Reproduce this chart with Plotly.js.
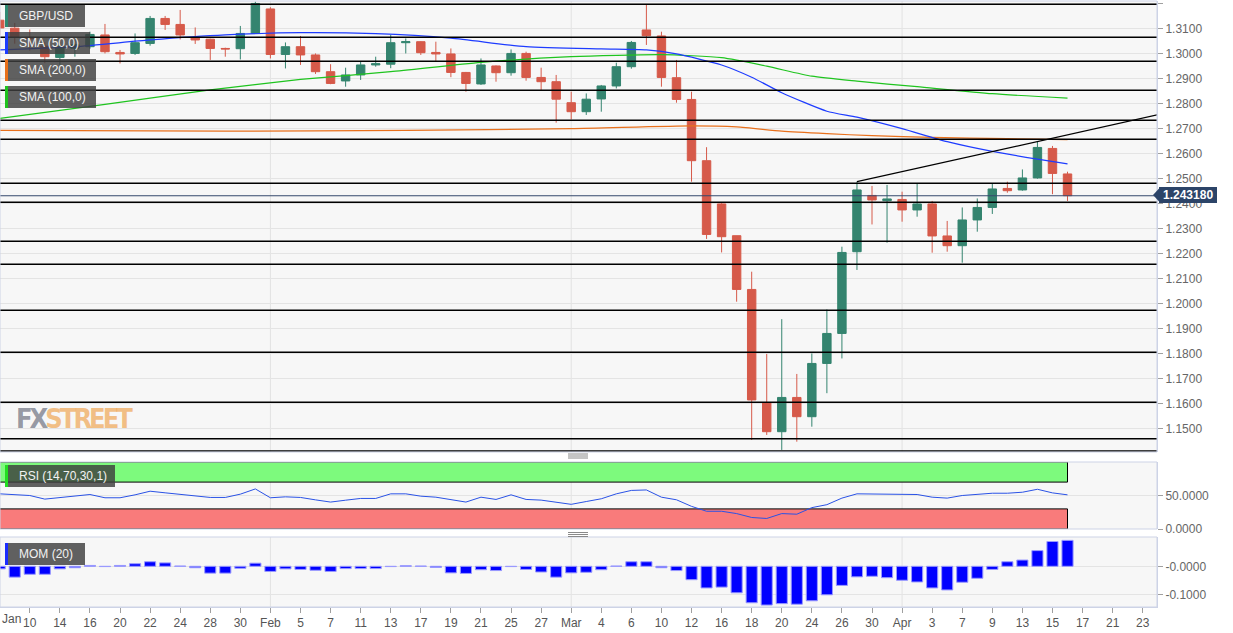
<!DOCTYPE html>
<html><head><meta charset="utf-8">
<script src="https://cdn.plot.ly/plotly-3.0.1.min.js"></script>
<style>html,body{margin:0;padding:0;background:#fff}#chart{width:1233px;height:633px}</style>
</head><body><div id="chart"></div>
<script>
// ---------- data ----------
const dates = ['2020-01-08','2020-01-09','2020-01-10','2020-01-13','2020-01-14','2020-01-15','2020-01-16','2020-01-17',
 '2020-01-20','2020-01-21','2020-01-22','2020-01-23','2020-01-24','2020-01-27','2020-01-28','2020-01-29','2020-01-30','2020-01-31',
 '2020-02-03','2020-02-04','2020-02-05','2020-02-06','2020-02-07','2020-02-10','2020-02-11','2020-02-12','2020-02-13','2020-02-14',
 '2020-02-17','2020-02-18','2020-02-19','2020-02-20','2020-02-21','2020-02-24','2020-02-25','2020-02-26','2020-02-27','2020-02-28',
 '2020-03-02','2020-03-03','2020-03-04','2020-03-05','2020-03-06','2020-03-09','2020-03-10','2020-03-11','2020-03-12','2020-03-13',
 '2020-03-16','2020-03-17','2020-03-18','2020-03-19','2020-03-20','2020-03-23','2020-03-24','2020-03-25','2020-03-26','2020-03-27',
 '2020-03-30','2020-03-31','2020-04-01','2020-04-02','2020-04-03','2020-04-06','2020-04-07','2020-04-08','2020-04-09','2020-04-10',
 '2020-04-13','2020-04-14','2020-04-15','2020-04-16'];
const futureDates = ['2020-04-17','2020-04-20','2020-04-21','2020-04-22','2020-04-23','2020-04-24'];

const open  = [1.3134,1.3102,1.3066,1.3030,1.2985,1.3022,1.3028,1.3075,1.3005,1.3001,1.3041,1.3141,1.3117,1.3064,1.3058,1.3021,1.3020,1.3081,
 1.3179,1.2997,1.3028,1.2995,1.2928,1.2891,1.2915,1.2955,1.2958,1.3044,1.3048,1.3005,1.2999,1.2925,1.2879,1.2951,1.2924,1.3001,1.2905,1.2888,
 1.2804,1.2768,1.2819,1.2871,1.2948,1.3095,1.3071,1.2904,1.2817,1.2572,1.2399,1.2272,1.2057,1.1604,1.1488,1.1625,1.1548,1.1761,1.1881,1.2208,
 1.2433,1.2412,1.2417,1.2375,1.2399,1.2271,1.2232,1.2335,1.2385,1.2461,1.2455,1.2503,1.2621,1.2519];
const high  = [1.3167,1.3123,1.3097,1.3045,1.3047,1.3055,1.3088,1.3119,1.3015,1.3081,1.3151,1.3151,1.3175,1.3105,1.3060,1.3024,1.3111,1.3208,
 1.3186,1.3045,1.3071,1.3001,1.2958,1.2944,1.2968,1.2988,1.3075,1.3061,1.3050,1.3048,1.3021,1.2927,1.2981,1.2953,1.3017,1.3008,1.2944,1.2915,
 1.2848,1.2841,1.2875,1.2964,1.3051,1.3195,1.3088,1.2975,1.2848,1.2626,1.2404,1.2272,1.2128,1.1799,1.1938,1.1719,1.1801,1.1977,1.2228,1.2488,
 1.2471,1.2475,1.2448,1.2481,1.2411,1.2331,1.2385,1.2421,1.2481,1.2488,1.2537,1.2648,1.2631,1.2528];
const low   = [1.3074,1.3040,1.3012,1.2962,1.2955,1.2988,1.3020,1.3001,1.2961,1.2995,1.3032,1.3095,1.3057,1.3039,1.2975,1.2988,1.2977,1.3080,
 1.2981,1.2941,1.2955,1.2919,1.2878,1.2868,1.2895,1.2948,1.2942,1.3001,1.2995,1.2971,1.2906,1.2848,1.2875,1.2888,1.2912,1.2892,1.2855,1.2724,
 1.2737,1.2755,1.2768,1.2861,1.2940,1.3035,1.2868,1.2804,1.2488,1.2259,1.2205,1.2008,1.1455,1.1475,1.1415,1.1448,1.1508,1.1642,1.1781,1.2135,
 1.2317,1.2244,1.2328,1.2348,1.2204,1.2208,1.2164,1.2288,1.2359,1.2444,1.2452,1.2500,1.2438,1.2411];
const close = [1.3103,1.3066,1.3060,1.2988,1.3028,1.3036,1.3077,1.3008,1.2999,1.3044,1.3141,1.3117,1.3075,1.3055,1.3021,1.3019,1.3081,1.3201,
 1.2997,1.3028,1.2995,1.2928,1.2881,1.2915,1.2955,1.2960,1.3044,1.3048,1.3004,1.2999,1.2925,1.2881,1.2955,1.2924,1.3001,1.2905,1.2888,1.2818,
 1.2768,1.2818,1.2871,1.2948,1.3045,1.3072,1.2905,1.2817,1.2572,1.2277,1.2268,1.2057,1.1615,1.1488,1.1625,1.1548,1.1761,1.1881,1.2205,1.2455,
 1.2415,1.2419,1.2375,1.2399,1.2271,1.2232,1.2335,1.2385,1.2459,1.2452,1.2503,1.2625,1.2521,1.2432];

const sma50Dates = ['2020-01-08','2020-01-15','2020-01-22','2020-01-29','2020-02-05','2020-02-12','2020-02-19','2020-02-26','2020-03-04',
 '2020-03-09','2020-03-11','2020-03-16','2020-03-18','2020-03-20','2020-03-25','2020-03-27','2020-04-01','2020-04-06','2020-04-09','2020-04-14','2020-04-16'];
const sma50 = [1.3015,1.3028,1.3055,1.3075,1.3084,1.3080,1.3062,1.3028,1.3019,1.3015,1.2999,1.2955,1.2906,1.2844,1.2770,1.2746,1.2700,1.2648,1.2609,1.2578,1.2559];

const sma100Dates = ['2020-01-08','2020-01-17','2020-01-28','2020-02-05','2020-02-13','2020-02-21','2020-03-02','2020-03-10','2020-03-16',
 '2020-03-19','2020-03-24','2020-03-27','2020-04-02','2020-04-09','2020-04-16'];
const sma100 = [1.2741,1.2797,1.2855,1.2897,1.2928,1.2965,1.2988,1.2996,1.2984,1.2950,1.2910,1.2890,1.2868,1.2840,1.2822];

const sma200Dates = ['2020-01-08','2020-01-29','2020-02-14','2020-03-02','2020-03-12','2020-03-17','2020-03-20','2020-03-25','2020-03-30',
 '2020-04-03','2020-04-10','2020-04-16'];
const sma200 = [1.2693,1.2690,1.2693,1.2700,1.2711,1.2707,1.2690,1.2680,1.2672,1.2665,1.2660,1.2656];

const levels = [1.3198,1.3066,1.2970,1.2854,1.2734,1.2658,1.2482,1.2406,1.2250,1.2158,1.1974,1.1806,1.1606,1.1460,1.1411];
const lastPrice = 1.24318;
const trendDates = ['2020-03-27','2020-04-24'];
const trendValues = [1.2488,1.2756];

const rsi = [52.5,51.5,50.0,44.6,47.1,48.5,51.5,46.6,46.6,51.0,56.4,54.0,51.5,49.5,47.1,47.1,52.0,59.8,
 46.6,48.0,47.1,43.5,40.2,43.0,45.6,45.6,52.5,52.5,49.0,47.5,43.5,40.2,47.5,44.1,51.0,44.1,43.1,40.0,
 36.8,41.0,45.1,52.5,57.6,58.3,47.5,43.6,33.8,26.5,26.5,23.0,17.2,15.7,23.0,22.1,31.9,36.3,46.1,52.5,
 52.0,52.0,51.0,51.5,47.5,46.1,50.0,51.5,53.4,53.4,54.9,59.3,53.9,51.0];
const rsiUpper = 70, rsiLower = 30;

const mom = [-0.009,-0.038,-0.028,-0.028,-0.009,-0.005,0.003,-0.001,0.003,0.009,0.016,0.012,0.001,-0.005,-0.024,-0.024,-0.007,0.011,
 -0.018,-0.009,-0.011,-0.014,-0.018,-0.008,-0.008,-0.008,-0.001,0.002,0.001,-0.004,-0.023,-0.025,-0.012,-0.015,-0.001,-0.011,-0.020,-0.038,
 -0.023,-0.021,-0.012,0.001,0.016,0.016,-0.005,-0.015,-0.047,-0.076,-0.073,-0.093,-0.128,-0.136,-0.131,-0.133,-0.121,-0.100,-0.067,-0.037,
 -0.035,-0.040,-0.049,-0.055,-0.076,-0.083,-0.056,-0.042,-0.011,0.016,0.022,0.055,0.087,0.091];

const tickDates = ['2020-01-10','2020-01-14','2020-01-16','2020-01-20','2020-01-22','2020-01-24','2020-01-28','2020-01-30','2020-02-03',
 '2020-02-05','2020-02-07','2020-02-11','2020-02-13','2020-02-17','2020-02-19','2020-02-21','2020-02-25','2020-02-27','2020-03-02',
 '2020-03-04','2020-03-06','2020-03-10','2020-03-12','2020-03-16','2020-03-18','2020-03-20','2020-03-24','2020-03-26','2020-03-30',
 '2020-04-01','2020-04-03','2020-04-07','2020-04-09','2020-04-13','2020-04-15','2020-04-17','2020-04-21','2020-04-23'];
const tickLabels = ['10','14','16','20','22','24','28','30','Feb','5','7','11','13','17','19','21','25','27','Mar','4','6','10','12',
 '16','18','20','24','26','30','Apr','3','7','9','13','15','17','21','23'];
const monthStarts = ['2020-02-03','2020-03-02','2020-04-01'];

// ---------- helpers ----------
const allDates = dates.concat(futureDates);
const pos = d => allDates.indexOf(d);
const W = 1157, H = 633;
const px = x => x / W;
const py = y => (H - y) / H;
const X = dates.map(pos);

const FONT = 'Liberation Sans, Arial, sans-serif';

const traces = [
  {type:'candlestick', x:X, open:open, high:high, low:low, close:close, xaxis:'x', yaxis:'y',
   increasing:{fillcolor:'#34846f', line:{color:'#34846f', width:1}},
   decreasing:{fillcolor:'#d65a4a', line:{color:'#d65a4a', width:1}},
   whiskerwidth:0, hoverinfo:'skip', showlegend:false},
  {type:'scatter', mode:'lines', x:sma100Dates.map(pos), y:sma100, line:{color:'#1fc41f', width:1.2, shape:'spline', smoothing:0.6}, xaxis:'x', yaxis:'y', hoverinfo:'skip'},
  {type:'scatter', mode:'lines', x:sma200Dates.map(pos), y:sma200, line:{color:'#e8701c', width:1.2, shape:'spline', smoothing:0.6}, xaxis:'x', yaxis:'y', hoverinfo:'skip'},
  {type:'scatter', mode:'lines', x:sma50Dates.map(pos), y:sma50, line:{color:'#1e3cff', width:1.2, shape:'spline', smoothing:0.6}, xaxis:'x', yaxis:'y', hoverinfo:'skip'},
  {type:'scatter', mode:'lines', x:trendDates.map(pos), y:trendValues, line:{color:'#000', width:1.2}, xaxis:'x', yaxis:'y', hoverinfo:'skip'},
  {type:'scatter', mode:'lines', x:X, y:rsi, line:{color:'#2a52e6', width:1}, xaxis:'x', yaxis:'y2', hoverinfo:'skip'},
  {type:'bar', x:X, y:mom, width:0.74, marker:{color:'#0000ff', line:{color:'#9a9aff', width:1}}, xaxis:'x', yaxis:'y3', hoverinfo:'skip'}
];

const shapes = [];
monthStarts.forEach(d => {
  ['y domain','y2 domain','y3 domain'].forEach(r => {
    shapes.push({type:'line', xref:'x', yref:r, x0:pos(d), x1:pos(d), y0:0, y1:1, line:{color:'#e2e2e2', width:1}, layer:'below'});
  });
});
const lastX = pos(dates[dates.length-1]);
shapes.push({type:'rect', xref:'x', yref:'y2', x0:-2, x1:lastX, y0:rsiUpper, y1:100, fillcolor:'#7dfa7d', line:{color:'#000', width:1}, layer:'below'});
shapes.push({type:'rect', xref:'x', yref:'y2', x0:-2, x1:lastX, y0:0, y1:rsiLower, fillcolor:'#f97b7b', line:{color:'#000', width:1}, layer:'below'});
levels.forEach(l => shapes.push({type:'line', xref:'paper', yref:'y', x0:0, x1:1, y0:l, y1:l, line:{color:'#000', width:1.5}, layer:'above'}));
shapes.push({type:'line', xref:'paper', yref:'y', x0:0, x1:1, y0:lastPrice, y1:lastPrice, line:{color:'#34486c', width:1}, layer:'above'});
['y domain','y2 domain','y3 domain'].forEach(r => {
  shapes.push({type:'rect', xref:'paper', yref:r, x0:0, x1:1, y0:0, y1:1, line:{color:'#cdd3e6', width:1}, fillcolor:'rgba(0,0,0,0)', layer:'above'});
});
const boxes = [
  {x0:5, x1:85, y0:5, y1:27, c:'#2f8a73', t:'GBP/USD'},
  {x0:5, x1:90, y0:32, y1:54, c:'#1b3cff', t:'SMA (50,0)'},
  {x0:5, x1:96, y0:59, y1:81, c:'#e8701a', t:'SMA (200,0)'},
  {x0:5, x1:96, y0:86, y1:108, c:'#1ec21e', t:'SMA (100,0)'},
  {x0:5, x1:115, y0:465, y1:487, c:'#22dd22', t:'RSI (14,70,30,1)'},
  {x0:5, x1:85, y0:543, y1:565, c:'#1b2cff', t:'MOM (20)'}
];
const annotations = [];
boxes.forEach(b => {
  shapes.push({type:'rect', xref:'paper', yref:'paper', x0:px(b.x0), x1:px(b.x1), y0:py(b.y1), y1:py(b.y0), fillcolor:'rgba(62,62,62,0.82)', line:{width:0}, layer:'above'});
  shapes.push({type:'rect', xref:'paper', yref:'paper', x0:px(b.x0), x1:px(b.x0+3), y0:py(b.y1), y1:py(b.y0), fillcolor:b.c, line:{width:0}, layer:'above'});
  annotations.push({xref:'paper', yref:'paper', x:px(17), y:py((b.y0+b.y1)/2), xanchor:'left', yanchor:'middle', showarrow:false,
    text:b.t, font:{family:FONT, size:12, color:'#f2f2f2'}});
});
[[454,456,458],[532.5,534.5,536.5]].forEach(g => g.forEach(y => {
  shapes.push({type:'line', xref:'paper', yref:'paper', x0:px(568), x1:px(588), y0:py(y), y1:py(y), line:{color:'#8a8a8a', width:1}, layer:'above'});
}));
shapes.push({type:'rect', xref:'paper', yref:'paper', x0:px(1159), x1:px(1217), y0:py(203), y1:py(187), fillcolor:'#2c4468', line:{width:0}, layer:'above'});
shapes.push({type:'path', xref:'paper', yref:'paper',
  path:`M ${px(1153)} ${py(195)} L ${px(1159.5)} ${py(188)} L ${px(1159.5)} ${py(202)} Z`, fillcolor:'#2c4468', line:{width:0}, layer:'above'});
annotations.push({xref:'paper', yref:'paper', x:px(1188), y:py(195), xanchor:'center', yanchor:'middle', showarrow:false,
  text:'<b>'+lastPrice.toFixed(6)+'</b>', font:{family:FONT, size:12, color:'#ffffff'}});
annotations.push({xref:'paper', yref:'paper', x:px(14), y:py(418), xanchor:'left', yanchor:'middle', showarrow:false,
  text:'<span style="color:rgba(125,128,142,0.8);letter-spacing:-3px">FX</span><span style="color:rgba(240,172,95,0.75);letter-spacing:-3px">STREET</span>',
  font:{family:'Liberation Sans Narrow, DejaVu Sans Condensed, sans-serif', size:27, weight:700}});
annotations.push({xref:'paper', yref:'paper', x:0, y:py(619), xanchor:'left', yanchor:'middle', showarrow:false,
  text:'Jan', font:{family:FONT, size:12, color:'#555'}});

const axisY = {side:'right', anchor:'x', showline:true, linecolor:'#cdd3e6', mirror:true, ticks:'outside', ticklen:5, tickcolor:'#a0a0a0',
  tickfont:{family:FONT, size:12, color:'#666'}, gridcolor:'#e4e4e4', zeroline:false, fixedrange:true};

const layout = {
  width:1233, height:633, margin:{l:0, r:76, t:0, b:0},
  paper_bgcolor:'#ffffff', plot_bgcolor:'#f7f7f7', showlegend:false, boxgap:0.2,
  font:{family:FONT},
  xaxis:{anchor:'y3', range:[0.02, 76.95], rangeslider:{visible:false}, tickmode:'array', tickvals:tickDates.map(pos), ticktext:tickLabels,
    ticks:'outside', ticklen:5, tickcolor:'#a0a0a0', tickfont:{family:FONT, size:12, color:'#555'}, showgrid:false, zeroline:false,
    showline:true, linecolor:'#cdd3e6'},
  yaxis:Object.assign({}, axisY, {domain:[py(452), py(1)], range:[1.14068, 1.32108], dtick:0.01, tick0:1.0, tickformat:'.4f'}),
  yaxis2:Object.assign({}, axisY, {domain:[py(529), py(462)], range:[0, 100], tickmode:'array', tickvals:[0,50], ticktext:['0.0000','50.0000']}),
  yaxis3:Object.assign({}, axisY, {domain:[py(607), py(537)], range:[-0.1428, 0.1028], tickmode:'array', tickvals:[0,-0.1], ticktext:['-0.0000','-0.1000']}),
  shapes:shapes, annotations:annotations
};

Plotly.newPlot('chart', traces, layout, {displayModeBar:false, staticPlot:true});
</script></body></html>
